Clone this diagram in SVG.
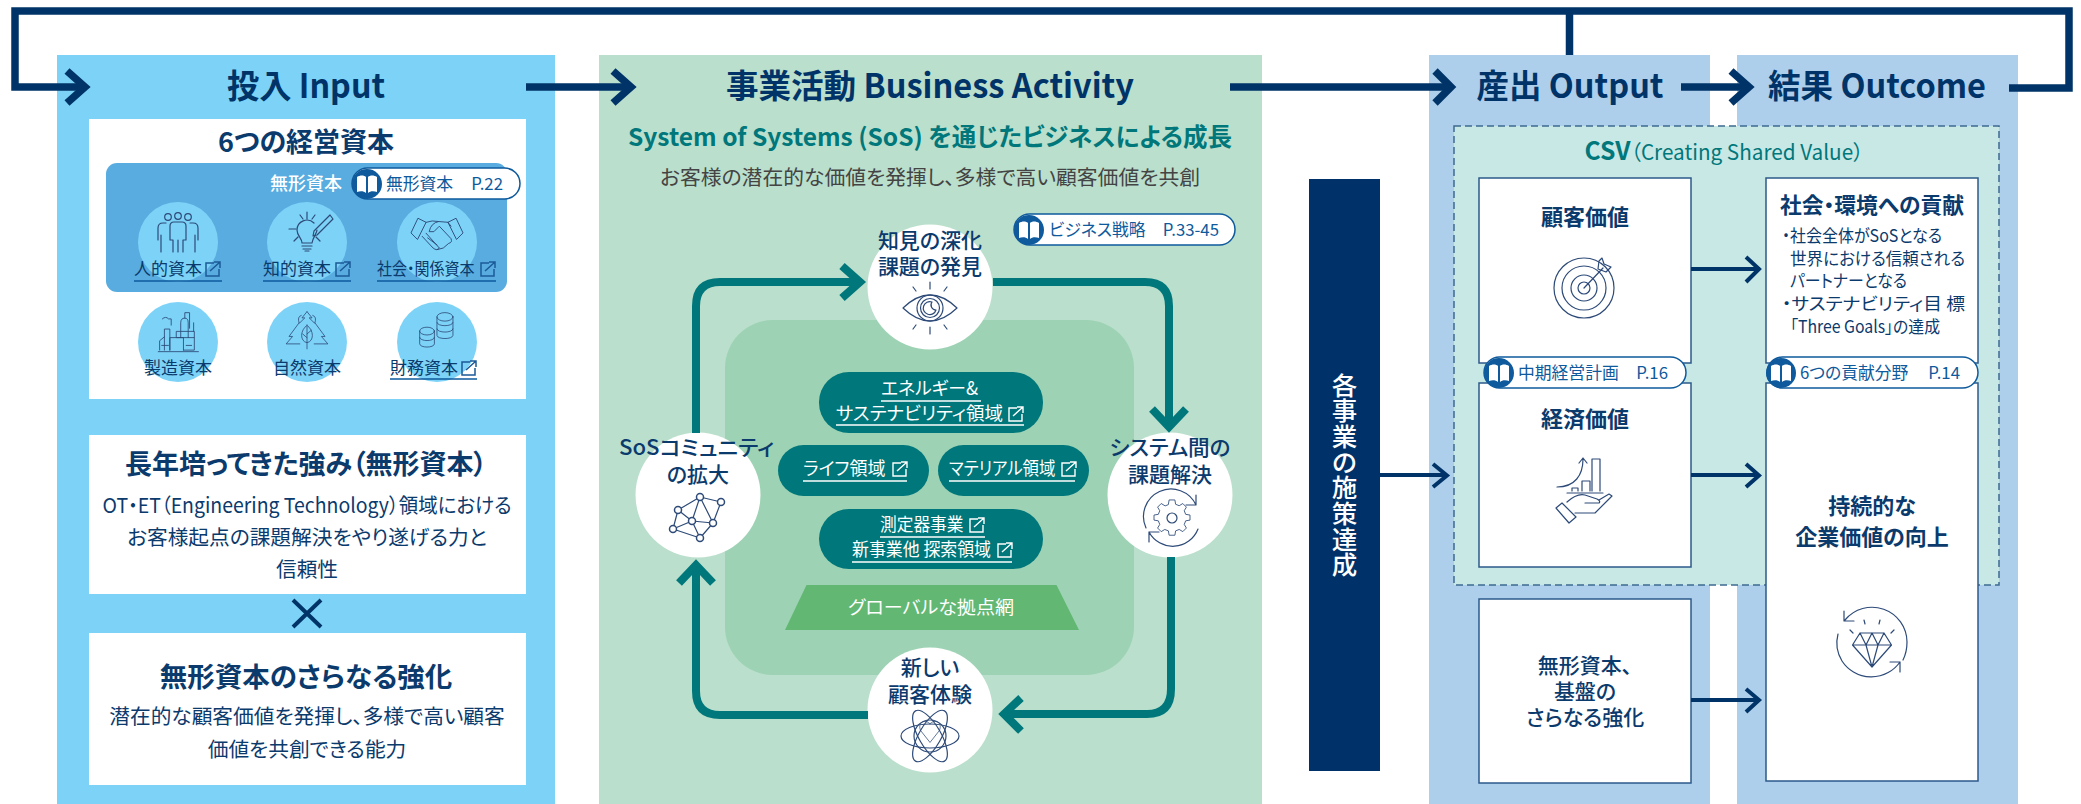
<svg xmlns="http://www.w3.org/2000/svg" width="2081" height="804" viewBox="0 0 2081 804">
<style>
text{font-family:"Noto Sans CJK JP","Noto Sans",sans-serif;font-feature-settings:"palt";fill:#0b3a6d}
.m{text-anchor:middle}
.title{font-size:33px;font-weight:700;text-anchor:middle;fill:#003468}
.h2{font-size:27.500px;font-weight:700;text-anchor:middle}
.body{font-size:20.700px;text-anchor:middle}
.cap{font-size:17px;text-anchor:middle}
.node{font-size:21px;font-weight:500;text-anchor:middle}
.pt{font-size:16.800px;fill:#0e5a9c}
.dom{font-size:18px;fill:#fff}
.card-t{font-size:22px;font-weight:700;text-anchor:middle}
.bul{font-size:17.500px}
.card{fill:#fff;stroke:#2b5a8a;stroke-width:1.500}
.pill{fill:#fff;stroke:#0e5a9c;stroke-width:1.500}
.dpill{fill:#00777a}
.ic{fill:none;stroke:#2d4a78;stroke-width:1.200;stroke-linecap:round;stroke-linejoin:round}
.c{fill:none;stroke:#003468;stroke-width:7.500}
.c4{fill:none;stroke:#003468;stroke-width:4}
.t{fill:none;stroke:#00777a;stroke-width:8}
.ul{stroke:#0e5a9c;stroke-width:1.500}
.ulw{stroke:#fff;stroke-width:1.300}
.cc{fill:#7dd3f7}
.lk{fill:none;stroke:#1b5a98;stroke-width:1.500}
.lkw{fill:none;stroke:#fff;stroke-width:1.400}
</style>
<defs>
<g id="book"><circle r="15" fill="#0e5a9c"/><path d="M-10-7C-7-9-3-9-1-7V9C-3 7-7 7-10 8ZM10-7C7-9 3-9 1-7V9C3 7 7 7 10 8Z" fill="#fff"/></g>
<g id="ext"><path d="M9 1H1V14H14V7"/><path d="M5 9L15 0M9 0H15V6"/></g>
<g id="i-people"><circle cx="-10" cy="-15" r="3.300"/><circle cy="-16" r="3.300"/><circle cx="10" cy="-15" r="3.300"/><path d="M-4-10H4Q8-10 8-6V8H5V20M-8-6V8H-5V20M-4-10Q-8-10-8-6M0 8V20"/><path d="M-12-9H-15Q-20-9-20-4V8M-17 3V20M12-9H15Q20-9 20-4V8M17 3V20"/></g>
<g id="i-bulb"><path d="M-5 11C-5 6-10 4-10-2A10 10 0 0 1 7-9M10-2C10 1 6 5 5 11H-5M-5 14H5M-4 17H4M-2 19H2"/><path d="M-7-17L-4-13M8-17L5-13M0-20V-13M-18-3H-11M-13 9L-9 5M13 9L9 5"/><path d="M7-1L23-17L26-13L10 3L6 4Z"/></g>
<g id="i-hands"><g transform="scale(.78)"><path d="M-24-20L-14-15L-25 7L-33-1ZM24-20L14-15L25 7L33-1Z"/><path d="M-14-15Q-6-18 2-16L14-15M18-10L14-15M2-16Q-8-14-10-3L-4-3L3-10L18 6Q20 11 15 12L8 18L0 20M-19 3L-5 18Q0 22 3 18L-14-1M-12 5L0 14"/></g></g>
<g id="i-factory"><g transform="scale(.68 .78)"><path d="M-20 20V-7H-12V20M-12 20V4H8V20M-27 20V8L-20 3M-29 22H30M4 4V-15Q4-21 10-21Q15-21 15-15V4M10-21V-28H17V-8M-2 4H24V-4H-2ZM23-4V-15M-23-20Q-18-24-14-20H-10V-12M8 20H24V4M-24 14H-14M12 14H20"/></g></g>
<g id="i-tree"><g transform="scale(.72 .62)"><path d="M0-32L-7-22H-3L-10-14M0-32L7-22H3L10-14M-11-14L-25 8L-20 8L-29 20H-10M11-14L25 8L20 8L29 20H10M-11-14Q-14-24-8-26M11-14Q14-24 8-26"/><path d="M0 28V-8M0-10C-10-2-10 16 0 18C10 16 10-2 0-10ZM0 4L6-2M0 10L-6 4"/></g></g>
<g id="i-coins"><g transform="scale(.64 .71)"><ellipse cx="14" cy="-22" rx="12.500" ry="6"/><path d="M1.500-22V4C2 10 26 10 26.500 4V-22M1.500-14C2-8 26-8 26.500-14M1.500-5C2 1 26 1 26.500-5"/><ellipse cx="-14" cy="-2" rx="11.500" ry="5.500"/><path d="M-25.500-2V16C-25 22-3 22-2.500 16V-2M-25.500 7C-25 13-3 13-2.500 7"/></g></g>
<g id="i-eye"><path d="M-27 0Q0-26 27 0Q0 26-27 0Z"/><circle r="13"/><circle r="9.500"/><path d="M2-6A6.500 6.500 0 1 0 6 2A5 5 0 0 1 2-6Z"/><path d="M0-26V-19M0 26V19M-17-21L-14-17M17-21L14-17M-17 21L-14 17M17 21L14 17"/></g>
<g id="i-gear"><path d="M-5-17L-4-23H4L5-17L10-15L15-18L20-13L17-8L19-3L25-2V5L19 6L17 11L20 16L15 21L10 18L5 20L4 26H-4L-5 20L-10 18L-15 21L-20 16L-17 11L-19 6L-25 5V-2L-19-3L-17-8L-20-13L-15-18L-10-15Z" transform="translate(0 -1.500) scale(.72)"/><circle r="5"/><path d="M-26 10A27 27 0 0 1 24-13M24-13V-23M24-13H14M26 11A27 27 0 0 1-23 14M-23 14V24M-23 14H-13"/></g>
<g id="i-atom"><path d="M0-18C-8-27-21-20-15-7L0 12L15-7C21-20 8-27 0-18Z" transform="translate(0 -1) scale(.62)"/><circle r="16"/><ellipse rx="29" ry="11" transform="rotate(60)"/><ellipse rx="29" ry="11" transform="rotate(-60)"/><ellipse rx="29" ry="12"/></g>
<g id="i-net"><path d="M1-21L22-16L14 5L1 20L-26 11L-21-8ZM1-21L-7 3L14 5M1-21L14 5M-21-8L-7 3M-26 11L-7 3L1 20M-21-8L-26 11"/><g fill="#fff" stroke-width="1.500"><circle cx="1" cy="-21" r="3.500"/><circle cx="22" cy="-16" r="3.500"/><circle cx="-21" cy="-8" r="3.500"/><circle cx="-7" cy="3" r="3.500"/><circle cx="14" cy="5" r="3.500"/><circle cx="-26" cy="11" r="3.500"/><circle cx="1" cy="20" r="3.500"/></g></g>
<g id="i-target"><circle r="30"/><circle r="22"/><circle r="13"/><circle r="6"/><path d="M0 0L19-20M15-27L14-19L22-16L27-21L20-24L18-30Z"/></g>
<g id="i-hand"><path d="M-28-3C-10-3-2-15-2-31M-6-27L-2-32L2-27M-13 1V-2H-7V1M-3 1V-9H5V1M7 1V-31H15V1M-18 3H18"/><path d="M-29 18L-23 13L-9 27L-16 33ZM-18 12Q-8 3 0 5L12 9Q16 11 14 13H0M14 10L24 4L27 6L10 23H-10"/></g>
<g id="i-gem"><path d="M-12-9H12L19.500 3L0 25L-19.500 3ZM-19.500 3H19.500M-12-9L-6 3L0 25L6 3L12-9M-6 3L0-9L6 3"/><path d="M-8-22L-7-18M8-22L7-18M-22-12L-19-9M22-12L19-9"/><path d="M-27-22A35 35 0 0 1 35 0C35 8 33 14 31 18M-28-31V-21H-18M-30 19A35 35 0 0 1-34-8M28 20A35 35 0 0 1-30 19M28 30V20H18"/></g>
</defs>

<g id="panels">
<rect x="57" y="55" width="498" height="749" fill="#7dd3f7"/>
<rect x="599" y="55" width="663" height="749" fill="#badfcc"/>
<rect x="1429" y="55" width="281" height="749" fill="#aecfec"/>
<rect x="1737" y="55" width="281" height="749" fill="#aecfec"/>
<rect x="725" y="320" width="409" height="355" rx="48" fill="#9dd3b4"/>
</g>

<g id="input">
<text class="title" x="306" y="98" textLength="158" lengthAdjust="spacingAndGlyphs">投入 Input</text>
<g id="capitals">
<rect x="89" y="119" width="437" height="280" fill="#fff"/>
<text class="h2" x="306" y="152" style="font-size:27px">6つの経営資本</text>
<rect x="106" y="163" width="401" height="129" rx="11" fill="#58ace0"/>
<text class="cap" x="306" y="190" style="fill:#fff;font-weight:500;font-size:18px">無形資本</text>
<circle class="cc" cx="178" cy="242" r="40"/><circle class="cc" cx="307" cy="242" r="40"/><circle class="cc" cx="437" cy="242" r="40"/>
<circle class="cc" cx="178" cy="342" r="40"/><circle class="cc" cx="307" cy="342" r="40"/><circle class="cc" cx="437" cy="342" r="40"/>
<use href="#i-people" class="ic" transform="translate(178 232)"/>
<use href="#i-bulb" class="ic" transform="translate(307 232)"/>
<use href="#i-hands" class="ic" transform="translate(437 234)"/>
<use href="#i-factory" class="ic" transform="translate(178 334.500)"/>
<use href="#i-tree" class="ic" transform="translate(307 331.500)"/>
<use href="#i-coins" class="ic" transform="translate(436 332.500)"/>
<text class="cap" x="134" y="275" style="text-anchor:start">人的資本</text>
<text class="cap" x="263" y="275" style="text-anchor:start">知的資本</text>
<text class="cap" x="377" y="275" style="text-anchor:start" textLength="97.600" lengthAdjust="spacingAndGlyphs">社会・関係資本</text>
<text class="cap" x="178" y="374">製造資本</text>
<text class="cap" x="307" y="374">自然資本</text>
<text class="cap" x="390" y="374" style="text-anchor:start">財務資本</text>
<use href="#ext" class="lk" transform="translate(205 262)"/>
<use href="#ext" class="lk" transform="translate(335 262)"/>
<use href="#ext" class="lk" transform="translate(480 262)"/>
<use href="#ext" class="lk" transform="translate(461 361)"/>
<path class="ul" d="M134 281H222M263 281H351M377 281H496M390 379H477"/>
<rect class="pill" x="352" y="168" width="168" height="31" rx="15.500"/>
<use href="#book" transform="translate(367 184)"/>
<text class="pt" x="386" y="190">無形資本</text>
<text class="pt" x="503" y="190" style="text-anchor:end">P.22</text>
</g>
<g id="strength">
<rect x="89" y="435" width="437" height="159" fill="#fff"/>
<text class="h2" x="306" y="474" textLength="362" lengthAdjust="spacingAndGlyphs">長年培ってきた強み（無形資本）</text>
<text class="body" x="307" y="513" textLength="409" lengthAdjust="spacingAndGlyphs">OT・ET（Engineering Technology）領域における</text>
<text class="body" x="307" y="545">お客様起点の課題解決をやり遂げる力と</text>
<text class="body" x="307" y="577">信頼性</text>
</g>
<path id="times" d="M293 600L321 627M321 600L293 627" fill="none" stroke="#003468" stroke-width="4"/>
<g id="reinforce">
<rect x="89" y="633" width="437" height="152" fill="#fff"/>
<text class="h2" x="306" y="687">無形資本のさらなる強化</text>
<text class="body" x="307" y="724">潜在的な顧客価値を発揮し、多様で高い顧客</text>
<text class="body" x="307" y="757">価値を共創できる能力</text>
</g>
</g>

<g id="business">
<text class="title" x="930" y="98" textLength="408" lengthAdjust="spacingAndGlyphs">事業活動 Business Activity</text>
<text x="930" y="146" class="m" style="font-size:24.500px;font-weight:700;fill:#00777a" textLength="604" lengthAdjust="spacingAndGlyphs">System of Systems (SoS) を通じたビジネスによる成長</text>
<text x="930" y="185" class="m" style="font-size:20.800px;fill:#444">お客様の潜在的な価値を発揮し、多様で高い顧客価値を共創</text>
<g id="pill-strategy">
<rect class="pill" x="1014" y="214" width="221" height="31" rx="15.500"/>
<use href="#book" transform="translate(1029 230)"/>
<text class="pt" x="1049" y="236">ビジネス戦略</text>
<text class="pt" x="1219" y="236" style="text-anchor:end">P.33-45</text>
</g>
<g id="node-insight">
<circle cx="930" cy="287" r="62.500" fill="#fff"/>
<text class="node" x="930" y="248">知見の深化</text>
<text class="node" x="930" y="274">課題の発見</text>
<use href="#i-eye" class="ic" transform="translate(930 308)"/>
</g>
<g id="node-system">
<circle cx="1170" cy="495" r="62.500" fill="#fff"/>
<text class="node" x="1170" y="455" textLength="121" lengthAdjust="spacingAndGlyphs">システム間の</text>
<text class="node" x="1170" y="482">課題解決</text>
<use href="#i-gear" class="ic" transform="translate(1172 518)"/>
</g>
<g id="node-experience">
<circle cx="930" cy="710" r="62.500" fill="#fff"/>
<text class="node" x="930" y="675">新しい</text>
<text class="node" x="930" y="702">顧客体験</text>
<use href="#i-atom" class="ic" transform="translate(930 736)"/>
</g>
<g id="node-community">
<circle cx="698" cy="495" r="62.500" fill="#fff"/>
<text class="node" x="696.500" y="455" textLength="155" lengthAdjust="spacingAndGlyphs">SoSコミュニティ</text>
<text class="node" x="698" y="482">の拡大</text>
<use href="#i-net" class="ic" transform="translate(699 518)"/>
</g>
<g id="domain-energy">
<rect class="dpill" x="819" y="372" width="224" height="61" rx="30"/>
<text class="dom" x="881" y="395" textLength="97" lengthAdjust="spacingAndGlyphs">エネルギー&amp;</text>
<text class="dom" x="836" y="420" textLength="167" lengthAdjust="spacingAndGlyphs">サステナビリティ領域</text>
<use href="#ext" class="lkw" transform="translate(1008 407)"/>
<path class="ulw" d="M881 401H981M836 425H1024"/>
</g>
<g id="domain-life">
<rect class="dpill" x="778" y="445" width="151" height="51" rx="25.500"/>
<text class="dom" x="803" y="475" textLength="82.500" lengthAdjust="spacingAndGlyphs">ライフ領域</text>
<use href="#ext" class="lkw" transform="translate(892 462)"/>
<path class="ulw" d="M803 481H907"/>
</g>
<g id="domain-material">
<rect class="dpill" x="938" y="445" width="151" height="51" rx="25.500"/>
<text class="dom" x="949" y="475" textLength="106.500" lengthAdjust="spacingAndGlyphs">マテリアル領域</text>
<use href="#ext" class="lkw" transform="translate(1061 462)"/>
<path class="ulw" d="M949 481H1075"/>
</g>
<g id="domain-measure">
<rect class="dpill" x="819" y="509" width="224" height="60" rx="30"/>
<text class="dom" x="880" y="531" textLength="83.500" lengthAdjust="spacingAndGlyphs">測定器事業</text>
<text class="dom" x="852" y="556" textLength="139" lengthAdjust="spacingAndGlyphs">新事業他 探索領域</text>
<use href="#ext" class="lkw" transform="translate(969 518)"/>
<use href="#ext" class="lkw" transform="translate(997 543)"/>
<path class="ulw" d="M880 537H985M852 562H1012"/>
</g>
<g id="global">
<path d="M806.500 585H1056.500L1079 630H785Z" fill="#62b773"/>
<text class="dom m" x="931" y="614" textLength="166" lengthAdjust="spacingAndGlyphs">グローバルな拠点網</text>
</g>
</g>

<g id="measures">
<rect x="1309" y="179" width="71" height="592" fill="#003168"/>
<text x="1331.750" y="394.500" rotate="-90" transform="rotate(90 1331.750 394.500)" style="font-size:25.500px;font-weight:500;fill:#fff;font-feature-settings:normal;letter-spacing:.2px">各事業の施策達成</text>
</g>

<g id="output-outcome">
<text class="title" x="1570" y="98" textLength="187" lengthAdjust="spacingAndGlyphs">産出 Output</text>
<text class="title" x="1877" y="98" textLength="218" lengthAdjust="spacingAndGlyphs">結果 Outcome</text>
<rect x="1454" y="126" width="545" height="459" fill="#c8e8e6" stroke="#3d6a8f" stroke-width="1.500" stroke-dasharray="7 4"/>
<text x="1724" y="160" class="m" style="font-size:21px;fill:#00777a" textLength="279" lengthAdjust="spacingAndGlyphs"><tspan style="font-size:25px;font-weight:700">CSV</tspan>（Creating Shared Value）</text>
<g id="card-customer">
<rect class="card" x="1479" y="178" width="212" height="185"/>
<text class="card-t" x="1585" y="225">顧客価値</text>
<use href="#i-target" class="ic" transform="translate(1584 288)"/>
</g>
<g id="card-economic">
<rect class="card" x="1479" y="383" width="212" height="184"/>
<text class="card-t" x="1585" y="427">経済価値</text>
<use href="#i-hand" class="ic" transform="translate(1585 490)"/>
</g>
<g id="card-intangible">
<rect class="card" x="1479" y="599" width="212" height="184"/>
<text class="node" x="1585" y="673">無形資本、</text>
<text class="node" x="1585" y="699">基盤の</text>
<text class="node" x="1585" y="725">さらなる強化</text>
</g>
<g id="card-society">
<rect class="card" x="1766" y="178" width="212" height="185"/>
<text class="card-t" x="1872" y="213" textLength="184" lengthAdjust="spacingAndGlyphs">社会・環境への貢献</text>
<text class="bul" x="1782" y="242" textLength="160" lengthAdjust="spacingAndGlyphs">・社会全体がSoSとなる</text>
<text class="bul" x="1790" y="265" textLength="175" lengthAdjust="spacingAndGlyphs">世界における信頼される</text>
<text class="bul" x="1790" y="287" textLength="117" lengthAdjust="spacingAndGlyphs">パートナーとなる</text>
<text class="bul" x="1782" y="310" textLength="183" lengthAdjust="spacingAndGlyphs">・サステナビリティ目 標</text>
<text class="bul" x="1790" y="333" textLength="150" lengthAdjust="spacingAndGlyphs">「Three Goals」の達成</text>
</g>
<g id="card-value">
<rect class="card" x="1766" y="383" width="212" height="398"/>
<text class="card-t" x="1872" y="514">持続的な</text>
<text class="card-t" x="1872" y="545">企業価値の向上</text>
<use href="#i-gem" class="ic" transform="translate(1872 642)"/>
</g>
<g id="pill-plan">
<rect class="pill" x="1484" y="357" width="202" height="31" rx="15.500"/>
<use href="#book" transform="translate(1499 373)"/>
<text class="pt" x="1518" y="379">中期経営計画</text>
<text class="pt" x="1668" y="379" style="text-anchor:end">P.16</text>
</g>
<g id="pill-areas">
<rect class="pill" x="1767" y="357" width="211" height="31" rx="15.500"/>
<use href="#book" transform="translate(1781 373)"/>
<text class="pt" x="1800" y="379">6つの貢献分野</text>
<text class="pt" x="1960" y="379" style="text-anchor:end">P.14</text>
</g>
</g>

<g id="connectors">
<path class="c" d="M1569.500 11V55M85 87H15V11H2069V88H2009"/>
<path class="c" d="M526 87H630M1230 87H1450M1681 87H1748"/>
<path class="c" d="M67 71L85 87L67 103M613 71L631 87L613 103M1435 71L1451 87L1435 103M1731 71L1749 87L1731 103"/>
<path class="c4" d="M1380 475H1445M1691 269H1757M1691 475H1757M1691 700H1757"/>
<path class="c4" d="M1433 464L1447 475.500L1433 487M1746 257L1759 269L1746 282M1746 464L1759 475.500L1746 487M1746 689L1759 700L1746 712"/>
<path class="t" d="M696 433V306Q696 282 720 282H858M842 266L860 282L842 298"/>
<path class="t" d="M993 282H1145Q1169 282 1169 306V426M1152 409L1169 427L1186 409"/>
<path class="t" d="M1171 557V689Q1171 714 1147 714H1005M1021 698L1004 714L1021 731"/>
<path class="t" d="M868 715H720Q696 715 696 691V566M679 583L696 565L713 583"/>
</g>
</svg>
